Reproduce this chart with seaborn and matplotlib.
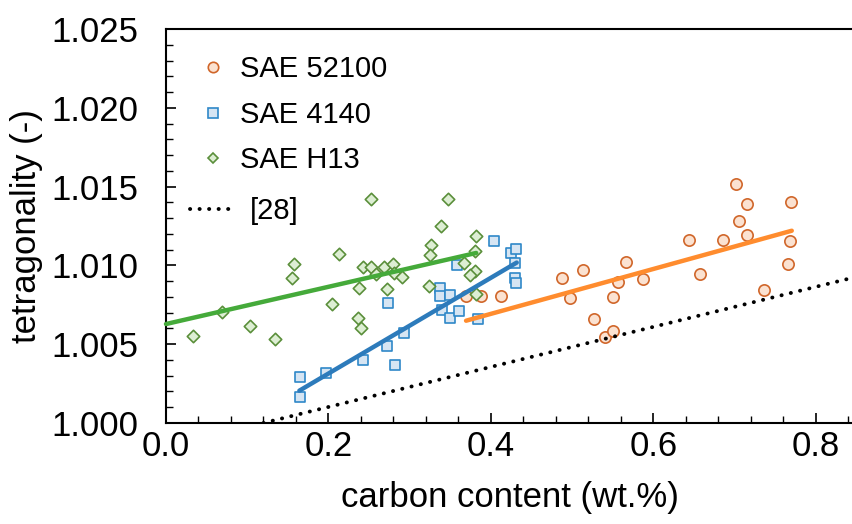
import matplotlib
matplotlib.use("Agg")
import matplotlib.pyplot as plt
from matplotlib.ticker import MultipleLocator, FormatStrFormatter
from matplotlib.lines import Line2D
import pandas as pd
import seaborn as sns

# ---- data ----
sae52100_c = [0.369, 0.388, 0.412, 0.488, 0.498, 0.513, 0.527, 0.541, 0.551, 0.550,
              0.556, 0.567, 0.587, 0.644, 0.658, 0.686, 0.702, 0.715, 0.706, 0.715,
              0.737, 0.770, 0.769, 0.766]
sae52100_t = [1.00806, 1.00806, 1.00806, 1.00918, 1.00791, 1.00973, 1.00663, 1.00548,
              1.00582, 1.00799, 1.00893, 1.01022, 1.00912, 1.01161, 1.00945, 1.01161,
              1.01515, 1.01390, 1.01282, 1.01190, 1.00841, 1.01404, 1.01157, 1.01009]

sae4140_c = [0.165, 0.165, 0.197, 0.242, 0.272, 0.282, 0.293, 0.273, 0.338, 0.337,
             0.350, 0.340, 0.350, 0.361, 0.358, 0.384, 0.404, 0.425, 0.431, 0.430,
             0.430, 0.431]
sae4140_t = [1.00294, 1.00163, 1.00319, 1.00400, 1.00490, 1.00371, 1.00570, 1.00760,
             1.00855, 1.00804, 1.00812, 1.00719, 1.00665, 1.00711, 1.01001, 1.00663,
             1.01152, 1.01081, 1.01102, 1.01017, 1.00922, 1.00890]

saeh13_c = [0.033, 0.069, 0.104, 0.134, 0.158, 0.155, 0.213, 0.205, 0.236, 0.240,
            0.238, 0.243, 0.253, 0.258, 0.253, 0.269, 0.280, 0.281, 0.272, 0.291,
            0.324, 0.326, 0.325, 0.339, 0.347, 0.367, 0.382, 0.380, 0.381, 0.374,
            0.382]
saeh13_t = [1.00554, 1.00704, 1.00615, 1.00535, 1.01011, 1.00918, 1.01072, 1.00755,
            1.00668, 1.00605, 1.00855, 1.00992, 1.00988, 1.00944, 1.01421, 1.00992,
            1.01009, 1.00954, 1.00852, 1.00924, 1.00869, 1.01131, 1.01064, 1.01252,
            1.01421, 1.01017, 1.01187, 1.01093, 1.00966, 1.00939, 1.00819]

# linear trend lines (end points) and literature relation [28]
fit52100_c = [0.3695, 0.7706]
fit52100_t = [1.00649, 1.01220]
fit4140_c = [0.1642, 0.4319]
fit4140_t = [1.00205, 1.01018]
fith13_c = [0.0, 0.382]
fith13_t = [1.00628, 1.01079]
ref28_c = [0.12, 0.86]
ref28_t = [1.0, 1.00940]

labels = ["SAE 52100", "SAE 4140", "SAE H13", "[28]"]

# ---- styling ----
sns.set_theme(style="white")
plt.rcParams['font.family'] = ['Liberation Sans', 'DejaVu Sans']

o_edge, o_face, o_line = "#D0662A", "#FBE2D1", "#FF8C2E"
b_edge, b_face, b_line = "#2F88C8", "#D6E5F3", "#2D7BBB"
g_edge, g_face, g_line = "#5B8F3B", "#DDEED3", "#45AA3A"
dotted = (0, (0.05, 2.4))

fig = plt.figure(figsize=(8.53, 5.24), dpi=100)
ax = fig.add_axes([166 / 853, 1 - 423 / 524, 1 - 166 / 853, (423 - 29) / 524])

d52 = pd.DataFrame({"c": sae52100_c, "t": sae52100_t})
d41 = pd.DataFrame({"c": sae4140_c, "t": sae4140_t})
dh = pd.DataFrame({"c": saeh13_c, "t": saeh13_t})

sns.scatterplot(data=d52, x="c", y="t", marker="o", s=66, color=o_face,
                edgecolor=o_edge, linewidth=1.2, ax=ax, zorder=3)
sns.scatterplot(data=d41, x="c", y="t", marker="s", s=56, color=b_face,
                edgecolor=b_edge, linewidth=1.2, ax=ax, zorder=4)
sns.scatterplot(data=dh, x="c", y="t", marker="D", s=40, color=g_face,
                edgecolor=g_edge, linewidth=1.2, ax=ax, zorder=5)

sns.lineplot(x=fit52100_c, y=fit52100_t, color=o_line, lw=3.2, ax=ax, zorder=6)
sns.lineplot(x=fit4140_c, y=fit4140_t, color=b_line, lw=3.2, ax=ax, zorder=6)
sns.lineplot(x=fith13_c, y=fith13_t, color=g_line, lw=3.2, ax=ax, zorder=6,
             clip_on=False)
sns.lineplot(x=ref28_c, y=ref28_t, color="black", lw=2.8, ax=ax, zorder=6,
             linestyle=dotted, dash_capstyle="round")

ax.set_xlim(0, 0.846)
ax.set_ylim(1.000, 1.025)
ax.xaxis.set_major_locator(MultipleLocator(0.2))
ax.xaxis.set_minor_locator(MultipleLocator(0.04))
ax.yaxis.set_major_locator(MultipleLocator(0.005))
ax.yaxis.set_minor_locator(MultipleLocator(0.001))
ax.xaxis.set_major_formatter(FormatStrFormatter("%.1f"))
ax.yaxis.set_major_formatter(FormatStrFormatter("%.3f"))
ax.tick_params(axis="both", which="major", direction="in", length=7, width=1.2,
               labelsize=25, colors="black")
ax.tick_params(axis="x", which="major", pad=5)
ax.tick_params(axis="y", which="major", pad=20)
ax.tick_params(axis="both", which="minor", direction="in", length=5, width=1.0,
               colors="black")
ax.tick_params(axis="x", which="both", bottom=True, top=False)
ax.tick_params(axis="y", which="both", left=True, right=False)
for side in ["left", "bottom", "top"]:
    ax.spines[side].set_visible(True)
    ax.spines[side].set_color("black")
    ax.spines[side].set_linewidth(1.5)
ax.spines["right"].set_visible(False)

ax.set_xlabel("carbon content (wt.%)", fontsize=25, color="black", labelpad=13)
ax.set_ylabel("tetragonality (-)", fontsize=25, color="black", labelpad=6)

marker_handles = [
    Line2D([], [], ls="none", marker="o", ms=7.5, mfc=o_face, mec=o_edge, mew=1.2),
    Line2D([], [], ls="none", marker="s", ms=7, mfc=b_face, mec=b_edge, mew=1.2),
    Line2D([], [], ls="none", marker="D", ms=5.5, mfc=g_face, mec=g_edge, mew=1.2),
]
ref_handle = [Line2D([], [], color="black", lw=2.8, linestyle=dotted,
                     dash_capstyle="round")]

leg1 = ax.legend(marker_handles, labels[:3], loc="upper left",
                 bbox_to_anchor=(0.0183, 0.985), frameon=False, fontsize=21,
                 handlelength=0.97, handletextpad=0.45, labelspacing=0.6,
                 borderaxespad=0.3)
for t in leg1.get_texts():
    t.set_color("black")
ax.add_artist(leg1)
leg2 = ax.legend(ref_handle, labels[3:], loc="upper left",
                 bbox_to_anchor=(0.0052, 0.6246), frameon=False, fontsize=21,
                 handlelength=1.55, handletextpad=0.52, borderaxespad=0.3)
for t in leg2.get_texts():
    t.set_color("black")

fig.savefig("out.png", dpi=100)
